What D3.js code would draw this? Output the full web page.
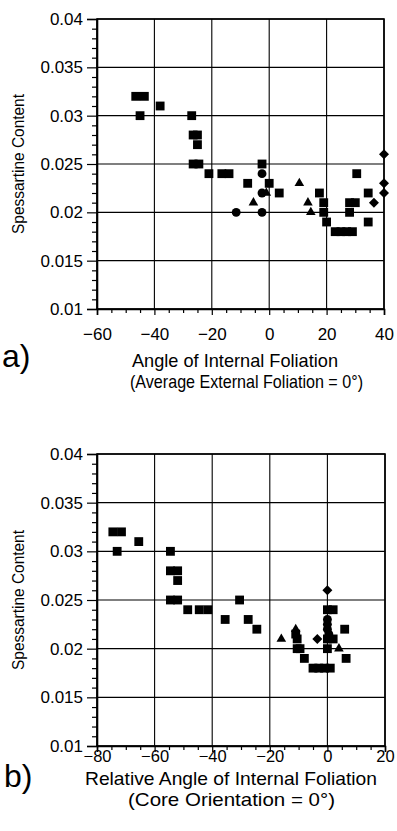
<!DOCTYPE html>
<html><head><meta charset="utf-8">
<script src="https://cdn.jsdelivr.net/npm/d3@7"></script>
<style>
html,body{margin:0;padding:0;background:#fff;}
svg text{font-family:"Liberation Sans",Arial,Helvetica,sans-serif;fill:#000;}
</style></head>
<body><svg id="chart" width="397" height="831"></svg>
<script>
// ---------- DATA ----------
const yTicks = [0.01, 0.015, 0.02, 0.025, 0.03, 0.035, 0.04];
const yTickLabels = ["0.01", "0.015", "0.02", "0.025", "0.03", "0.035", "0.04"];
const xTicksA = [-60, -40, -20, 0, 20, 40];
const xTicksB = [-80, -60, -40, -20, 0, 20];
const yLabel = "Spessartine Content";
const xTitleA = ["Angle of Internal Foliation", "(Average External Foliation = 0°)"];
const xTitleB = ["Relative Angle of Internal Foliation", "(Core Orientation = 0°)"];

// panel a) points [angle, spessartine]
const aSquares = [[-46.5,0.032],[-43.5,0.032],[-45,0.030],[-38,0.031],[-27,0.030],
  [-26.5,0.028],[-25,0.028],[-25,0.027],[-26.5,0.025],[-24.5,0.025],[-21,0.024],
  [-16.5,0.024],[-14,0.024],[-7.5,0.023],[-2.5,0.025],[0,0.023],[3.5,0.022],
  [17.5,0.022],[19,0.021],[19,0.020],[20,0.019],[23,0.018],[25,0.018],[27,0.018],
  [29,0.018],[28,0.021],[30,0.021],[28,0.020],[30.5,0.024],[34.5,0.022],[34.5,0.019]];
const aCircles = [[-11.5,0.020],[-2.5,0.024],[-2.5,0.022],[-2.5,0.020]];
const aTriangles = [[-5.5,0.021],[-1,0.022],[10.5,0.023],[13.5,0.021],[14.5,0.020]];
const aDiamonds = [[36.5,0.021],[40,0.026],[40,0.023],[40,0.022]];

// panel b) points [relative angle, spessartine]
const bSquares = [[-74.5,0.032],[-71.5,0.032],[-73,0.030],[-65.5,0.031],[-54.5,0.030],
  [-54.5,0.028],[-52,0.028],[-52,0.027],[-54.5,0.025],[-52,0.025],[-48.5,0.024],
  [-44.5,0.024],[-41.5,0.024],[-35.5,0.023],[-30.5,0.025],[-27.5,0.023],[-24.5,0.022],
  [-11,0.0215],[-10.5,0.021],[-10.5,0.020],[-9.5,0.020],[-8,0.019],[-5,0.018],
  [-3,0.018],[-1,0.018],[1,0.018],[0,0.024],[2,0.024],[0,0.020],[0,0.021],[2,0.021],
  [6,0.022],[6.5,0.019]];
const bCircles = [[0,0.023],[0,0.0225],[0,0.022],[0.5,0.0215]];
const bTriangles = [[-16,0.021],[-11,0.022],[4,0.020]];
const bDiamonds = [[0,0.026],[-3.5,0.021]];

// ---------- DRAW ----------
const svg = d3.select("#chart");

function panel(cfg){
  const g = svg.append("g");
  const x = d3.scaleLinear().domain(cfg.xDomain).range([cfg.left, cfg.right]);
  const y = d3.scaleLinear().domain([0.01, 0.04]).range([cfg.bottom, cfg.top]);

  // grid
  g.append("g").selectAll("line").data(cfg.xTicks).join("line")
    .attr("x1", d => x(d)).attr("x2", d => x(d))
    .attr("y1", cfg.top).attr("y2", cfg.bottom)
    .attr("stroke", "#000").attr("stroke-width", 1.1);
  g.append("g").selectAll("line").data(yTicks).join("line")
    .attr("y1", d => y(d)).attr("y2", d => y(d))
    .attr("x1", cfg.left).attr("x2", cfg.right)
    .attr("stroke", "#000").attr("stroke-width", 1.1);
  // frame
  g.append("rect").attr("x", cfg.left).attr("y", cfg.top)
    .attr("width", cfg.right - cfg.left).attr("height", cfg.bottom - cfg.top)
    .attr("fill", "none").attr("stroke", "#000").attr("stroke-width", 1.6);

  // y axis: major + minor
  const yMinor = d3.range(0.01, 0.04001, 0.001).filter(v => Math.abs(v*200 - Math.round(v*200)) > 1e-6);
  const yAx = g.append("g").attr("transform", `translate(${cfg.left},0)`)
    .call(d3.axisLeft(y).tickValues(yTicks).tickFormat((d,i) => yTickLabels[i]).tickSize(10).tickPadding(4));
  g.append("g").attr("transform", `translate(${cfg.left},0)`)
    .call(d3.axisLeft(y).tickValues(yMinor).tickFormat("").tickSize(5))
    .call(s => s.select(".domain").remove());
  yAx.selectAll("text").attr("font-size", 17).attr("font-family", "Liberation Sans, Arial, sans-serif");
  // x axis: major + minor
  const xMinor = d3.range(cfg.xDomain[0], cfg.xDomain[1] + 0.1, 5).filter(v => v % 20 !== 0);
  const xAx = g.append("g").attr("transform", `translate(0,${cfg.bottom})`)
    .call(d3.axisBottom(x).tickValues(cfg.xTicks).tickFormat(d3.format("d")).tickSize(6).tickPadding(cfg.xPad));
  g.append("g").attr("transform", `translate(0,${cfg.bottom})`)
    .call(d3.axisBottom(x).tickValues(xMinor).tickFormat("").tickSize(4))
    .call(s => s.select(".domain").remove());
  xAx.selectAll("text").attr("font-size", cfg.xFont).attr("font-family", "Liberation Sans, Arial, sans-serif");
  g.selectAll(".domain").attr("stroke-width", 1.6);
  g.selectAll(".tick line").attr("stroke-width", 1.2);

  // markers
  const sq = d3.symbol().type(d3.symbolSquare).size(78);
  const ci = d3.symbol().type(d3.symbolCircle).size(62);
  const tr = d3.symbol().type(d3.symbolTriangle).size(40);
  const di = d3.symbol().type(d3.symbolSquare).size(50);
  const m = g.append("g");
  m.selectAll(".sq").data(cfg.squares).join("path").attr("d", sq)
    .attr("transform", d => `translate(${x(d[0])},${y(d[1])})`).attr("fill", "#000");
  m.selectAll(".ci").data(cfg.circles).join("path").attr("d", ci)
    .attr("transform", d => `translate(${x(d[0])},${y(d[1])})`).attr("fill", "#000");
  m.selectAll(".tr").data(cfg.triangles).join("path").attr("d", tr)
    .attr("transform", d => `translate(${x(d[0])},${y(d[1])})`).attr("fill", "#000");
  m.selectAll(".di").data(cfg.diamonds).join("path").attr("d", di)
    .attr("transform", d => `translate(${x(d[0])},${y(d[1])}) rotate(45)`).attr("fill", "#000");

  // y label
  g.append("text").attr("transform", `translate(24,${(cfg.top + cfg.bottom)/2}) rotate(-90)`)
    .attr("text-anchor", "middle").attr("font-size", 16)
    .attr("textLength", 140).attr("lengthAdjust", "spacingAndGlyphs").text(yLabel);
  // x titles
  g.append("text").attr("x", cfg.t1x).attr("y", cfg.t1y).attr("text-anchor", "middle")
    .attr("font-size", 18.5).attr("textLength", cfg.t1w).attr("lengthAdjust", "spacingAndGlyphs")
    .text(cfg.titles[0]);
  g.append("text").attr("x", cfg.t2x).attr("y", cfg.t2y).attr("text-anchor", "middle")
    .attr("font-size", 18.5).attr("textLength", cfg.t2w).attr("lengthAdjust", "spacingAndGlyphs")
    .text(cfg.titles[1]);
  // panel letter
  g.append("text").attr("x", cfg.lx).attr("y", cfg.ly).attr("font-size", 32).text(cfg.letter);
}

panel({xDomain:[-60,40], xTicks:xTicksA, left:97, right:384, top:19, bottom:309, xPad:13, xFont:17,
  squares:aSquares, circles:aCircles, triangles:aTriangles, diamonds:aDiamonds,
  titles:xTitleA, t1x:235, t1y:367, t1w:206, t2x:246.5, t2y:388, t2w:233,
  letter:"a)", lx:2, ly:367});
panel({xDomain:[-80,20], xTicks:xTicksB, left:97, right:385, top:454, bottom:746, xPad:-2, xFont:16.5,
  squares:bSquares, circles:bCircles, triangles:bTriangles, diamonds:bDiamonds,
  titles:xTitleB, t1x:231, t1y:785, t1w:292, t2x:231.5, t2y:806, t2w:207,
  letter:"b)", lx:4, ly:787});
</script></body></html>
